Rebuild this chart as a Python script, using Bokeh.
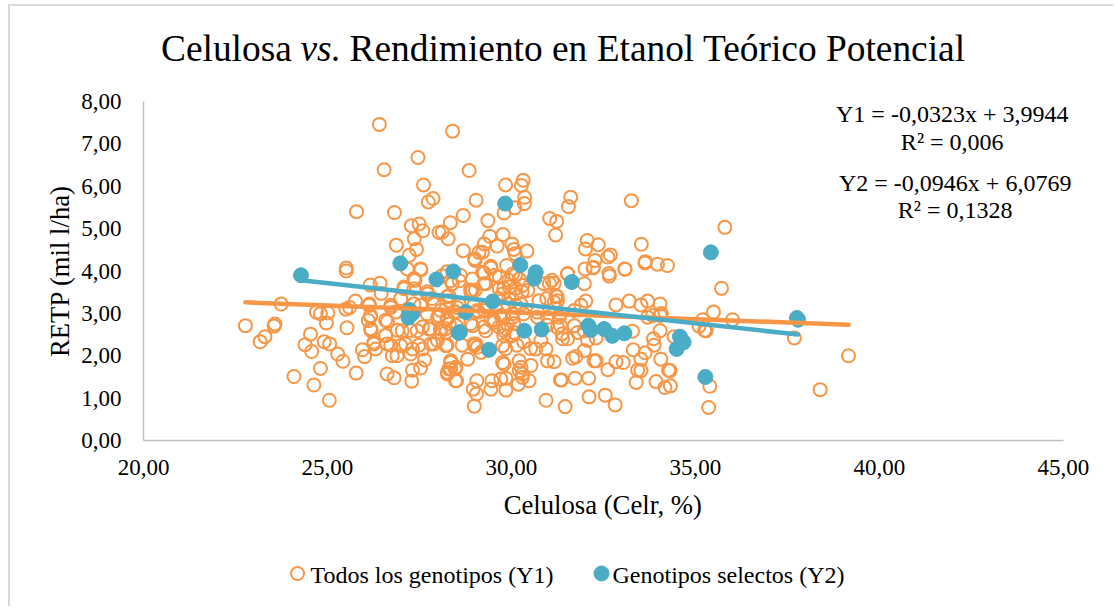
from bokeh.plotting import figure
from bokeh.layouts import column
from bokeh.models import FixedTicker, Label
from bokeh.embed import file_html
from bokeh.resources import INLINE

x_todos = [
 26.41,28.40,27.46,26.54,28.85,27.61,29.84,27.87,27.74,29.04,
 25.79,26.82,28.69,28.34,29.36,27.28,27.49,27.59,28.03,28.12,
 28.28,27.36,26.87,27.42,27.22,28.69,29.41,29.77,29.26,29.61,
 29.21,29.12,29.00,30.01,30.07,30.10,29.44,29.87,29.21,27.53,
 25.51,25.51,29.80,30.09,30.32,30.27,30.36,30.35,31.61,31.55,
 33.26,35.80,31.04,31.23,31.20,32.06,32.01,32.36,32.69,32.62,
 33.53,33.64,33.97,34.24,32.27,32.00,32.23,33.08,32.65,31.53,
 30.42,
 26.16,26.43,26.46,27.17,27.54,27.38,27.08,23.74,22.77,23.57,
 23.55,23.30,23.17,24.70,24.81,25.01,24.97,24.54,24.39,24.57,
 24.91,25.06,25.28,25.42,24.81,24.09,24.63,25.05,25.78,25.53,
 25.60,25.76,25.50,26.14,26.17,26.11,26.19,26.63,26.72,26.58,
 26.26,25.95,26.01,26.31,26.62,26.76,26.89,27.26,27.03,27.44,
 27.76,28.07,27.81,27.58,28.22,26.99,27.31,27.99,26.62,26.81,
 27.29,27.31,27.53,27.64,28.35,28.30,28.26,28.47,28.48,27.72,
 27.35,27.90,28.30,27.99,28.26,28.57,28.12,28.39,
 35.71,35.49,35.20,36.01,35.10,35.29,35.25,37.69,39.16,38.39,
 35.39,35.36,34.07,34.42,34.27,
 32.66,33.09,31.98,32.22,33.63,33.20,33.70,33.52,34.04,33.84,
 34.04,33.70,32.84,33.29,34.04,33.86,33.88,33.31,33.63,33.52,
 34.06,34.31,33.43,33.52,33.39,33.93,34.17,34.32,32.82,32.55,
 32.11,31.46,30.94,32.10,31.73,31.36,31.33,32.62,32.25,32.30,
 32.84,33.04,31.98,31.66,31.75,30.94,30.66,30.98,31.16,29.76,
 28.99,29.05,28.96,29.06,29.44,29.47,29.85,29.71,29.85,30.19,
 30.30,30.48,28.51,28.26,28.35,28.49,28.35,28.81,28.99,29.17,
 28.22,29.76,29.80,30.21,30.21,30.53,30.30,30.26,
 29.01,29.44,29.26,28.94,28.58,28.35,29.30,29.67,30.03,30.21,
 29.94,29.67,30.30,29.76,30.12,30.44,28.94,28.90,31.03,31.16,
 31.52,31.21,31.25,31.16,32.02,31.89,31.71,30.75,30.26,29.89,
 29.26,30.03,29.71,29.44,29.30,29.80,30.07,30.80,31.25,31.53,
 31.71,31.39,31.80,31.98,32.30,32.07,28.94,28.31,28.31,28.22,
 28.49,28.08,28.53,30.71,30.98,31.30,29.53,29.89,
 28.25,28.61,28.89,29.02,29.25,29.56,29.93,30.11,29.79,30.11,
 30.29,30.88,31.10,31.24,30.96,29.66,29.93,30.11,29.34,28.98,
 29.11,29.52,29.79,30.02,30.33,30.70,29.25,29.66,29.84,30.06,
 30.02,29.79,30.33,30.97,31.33,31.33,28.25,28.48,28.21,28.89,
 28.98,29.07,29.84,30.15,30.52,31.38,
 27.35,27.08,27.35,27.71,26.13,26.72,26.17,26.58,26.99,26.85,
 27.53,27.85,28.25,28.03,27.71,28.44,27.80,28.07,27.58,26.17,
 26.58,26.90,27.26,27.12,27.49,27.89,28.25,29.03,26.26,26.72,
 28.66,29.07,
]
y_todos = [
 7.46,7.30,6.68,6.39,6.37,6.03,6.03,5.71,5.63,5.67,
 5.40,5.38,5.31,5.14,5.19,5.07,5.11,4.95,4.91,4.92,
 4.76,4.76,4.61,4.51,4.37,4.48,4.82,4.86,4.64,4.59,
 4.44,4.44,4.29,4.64,4.51,4.41,4.11,4.13,3.97,4.05,
 4.07,4.00,5.37,5.49,6.14,6.02,5.74,5.59,5.74,5.52,
 5.66,5.03,5.24,5.17,4.85,4.72,4.52,4.62,4.38,4.33,
 4.63,4.22,4.16,4.13,4.25,4.05,4.09,4.05,3.94,3.94,
 4.47,
 3.67,3.71,3.47,4.05,4.03,3.78,3.58,3.22,2.71,2.75,
 2.70,2.45,2.33,3.03,2.99,3.01,2.77,2.51,2.26,2.10,
 2.33,2.28,2.04,1.87,1.70,1.51,1.31,0.95,1.59,2.66,
 3.14,3.29,3.10,3.22,2.95,2.83,2.59,2.81,3.14,2.48,
 2.32,2.14,1.98,2.16,2.28,2.00,2.00,2.04,2.59,2.59,
 2.63,2.63,2.28,2.16,2.24,2.24,2.16,2.36,1.57,1.48,
 1.40,1.66,1.71,1.90,1.88,1.69,1.57,1.69,1.41,3.46,
 3.22,3.22,3.42,2.91,2.87,3.23,3.89,3.70,
 3.59,3.03,2.85,2.85,2.70,2.59,2.60,2.42,2.00,1.20,
 1.28,0.78,3.00,2.45,1.66,
 3.88,4.04,3.70,4.07,4.19,3.29,3.29,3.20,3.22,2.95,
 2.95,2.91,3.20,2.58,2.59,2.40,2.25,2.14,2.07,1.92,
 1.92,1.65,1.66,1.65,1.37,1.39,1.25,1.29,0.84,1.07,
 1.03,0.80,0.95,1.47,1.47,1.43,1.43,1.67,1.88,1.88,
 1.86,1.84,2.12,1.94,1.98,2.16,2.16,1.88,1.86,2.24,
 0.81,1.10,1.21,1.41,1.21,1.41,1.19,1.45,1.47,1.33,
 1.49,1.41,1.41,1.61,1.84,1.73,1.69,1.92,2.24,2.08,
 2.24,1.84,1.80,1.88,1.65,1.77,1.57,1.73,
 4.25,4.07,3.95,3.81,3.77,3.77,3.70,3.85,3.93,3.81,
 3.62,3.58,3.66,3.46,3.46,3.54,3.54,3.50,3.71,3.71,
 3.93,3.42,3.30,3.26,3.29,3.19,3.07,3.30,3.22,3.22,
 3.07,2.91,2.95,2.83,2.59,2.59,2.55,2.36,2.67,2.40,
 2.71,2.40,2.55,2.59,2.42,2.36,2.71,3.30,2.75,2.55,
 2.71,3.07,3.14,2.91,2.91,2.91,2.79,2.75,
 3.98,3.90,3.55,3.55,3.70,3.90,3.78,3.90,3.59,3.59,
 3.51,3.70,3.78,3.39,3.35,3.35,3.35,3.19,3.15,3.19,
 3.03,2.84,2.92,2.99,2.99,3.03,2.68,2.68,2.64,2.76,
 2.48,2.48,2.33,2.72,2.72,2.99,2.88,3.03,2.64,2.76,
 2.28,2.20,2.17,2.25,2.17,2.52,
 3.82,3.62,3.58,3.51,3.19,3.19,2.92,2.84,3.35,3.03,
 3.19,3.35,3.39,2.95,2.99,3.03,2.64,2.56,2.68,2.64,
 2.48,2.60,2.60,2.28,2.25,2.28,2.25,2.28,2.28,2.25,
 2.25,3.07,
]
x_selectos = [29.83,30.24,30.66,30.62,35.42,26.98,28.42,24.28,27.96,27.23,27.31,27.20,
 28.57,31.64,29.49,28.76,29.39,30.35,30.82,32.09,32.16,32.52,32.74,33.07,34.58,34.68,34.49,35.27,37.76,37.79,28.60]
y_selectos = [5.59,4.14,3.97,3.82,4.44,4.18,3.99,3.90,3.80,3.08,3.00,2.90,
 2.54,3.74,3.28,3.03,2.14,2.59,2.62,2.71,2.61,2.63,2.47,2.53,2.45,2.32,2.16,1.50,2.89,2.85,2.56]
linea1_x = [22.77,39.16]
linea1_y = [3.26,2.73]
linea2_x = [24.28,37.79]
linea2_y = [3.78,2.50]
x_ticks = [20,25,30,35,40,45]
x_tick_labels = ["20,00","25,00","30,00","35,00","40,00","45,00"]
y_ticks = [0,1,2,3,4,5,6,7,8]
y_tick_labels = ["0,00","1,00","2,00","3,00","4,00","5,00","6,00","7,00","8,00"]

ORANGE = "#F79646"
BLUE = "#4BACC6"
SERIF = "Liberation Serif"

def strip(h):
    f = figure(width=1105, height=h, x_range=(143,1075), y_range=(0,h),
               x_axis_location=None, y_axis_location=None,
               output_backend="svg", toolbar_location=None, min_border=0,
               background_fill_color="white", border_fill_color="white")
    f.outline_line_color = None
    f.grid.visible = False
    return f

head = strip(70)
for hx, s, style in ((160.5, "Celulosa", "normal"), (300, "vs.", "italic"),
                     (349, "Rendimiento en Etanol Teórico Potencial", "normal")):
    head.add_layout(Label(x=hx, y=28, text=s, text_font=SERIF, text_font_size="37.4px",
                          text_font_style=style, text_align="left", text_baseline="middle",
                          text_color="black"))

p = figure(width=1105, height=464, x_range=(20,45.33), y_range=(0,8),
           output_backend="svg", toolbar_location=None,
           min_border_left=133, min_border_right=40, min_border_top=25, min_border_bottom=100,
           background_fill_color="white", border_fill_color="white")
p.outline_line_color = None
p.grid.visible = False

for ax, ticks, labels in ((p.xaxis[0], x_ticks, x_tick_labels), (p.yaxis[0], y_ticks, y_tick_labels)):
    ax.ticker = FixedTicker(ticks=ticks)
    ax.major_label_overrides = {t: l for t, l in zip(ticks, labels)}
    ax.major_tick_line_color = None
    ax.minor_tick_line_color = None
    ax.axis_line_color = "#BFBFBF"
    ax.axis_line_width = 1.5
    ax.major_label_text_font = SERIF
    ax.major_label_text_font_size = "23px"
    ax.major_label_text_color = "black"
    ax.axis_label_text_font = SERIF
    ax.axis_label_text_font_size = "26.7px"
    ax.axis_label_text_font_style = "normal"
    ax.axis_label_text_color = "black"
p.xaxis[0].bounds = (20, 45)
p.xaxis[0].axis_label = "Celulosa (Celr, %)\u00a0\u00a0"
p.yaxis[0].axis_label = "RETP (mil l/ha)"
p.xaxis[0].major_label_standoff = 13
p.yaxis[0].major_label_standoff = 16
p.xaxis[0].axis_label_standoff = 12
p.yaxis[0].axis_label_standoff = 3

p.scatter(x_todos, y_todos, size=13, marker="circle", fill_color=None, line_color=ORANGE, line_width=2)
p.scatter(x_selectos, y_selectos, size=15, marker="circle", fill_color=BLUE, line_color=BLUE)
p.line(linea1_x, linea1_y, line_color=ORANGE, line_width=4.5, line_cap="round")
p.line(linea2_x, linea2_y, line_color=BLUE, line_width=4.5, line_cap="round")

def txt(x, y, s, size, align="center"):
    p.add_layout(Label(x=x, y=y, text=s, text_font=SERIF, text_font_size=size,
                       text_align=align, text_baseline="middle", text_color="black"))

txt(41.98, 7.71, "Y1 = -0,0323x + 3,9944", "24px")
txt(41.98, 7.05, "R² = 0,006", "24px")
txt(42.06, 6.08, "Y2 = -0,0946x + 6,0769", "24px")
txt(42.06, 5.44, "R² = 0,1328", "24px")

foot = strip(68)
foot.scatter([297], [35], size=13, marker="circle", fill_color=None, line_color=ORANGE, line_width=2)
foot.scatter([601], [35], size=15, marker="circle", fill_color=BLUE, line_color=BLUE)
for lx, s in ((310, "Todos los genotipos (Y1)"), (612, "Genotipos selectos (Y2)")):
    foot.add_layout(Label(x=lx, y=34, text=s, text_font=SERIF, text_font_size="24px",
                          text_align="left", text_baseline="middle", text_color="black"))

page = column(head, p, foot, margin=(6,0,0,10), spacing=0, styles={"box-shadow": "-2px -2px 0 0 #D9D9D9"})
open("out.html", "w").write(file_html(page, INLINE))
